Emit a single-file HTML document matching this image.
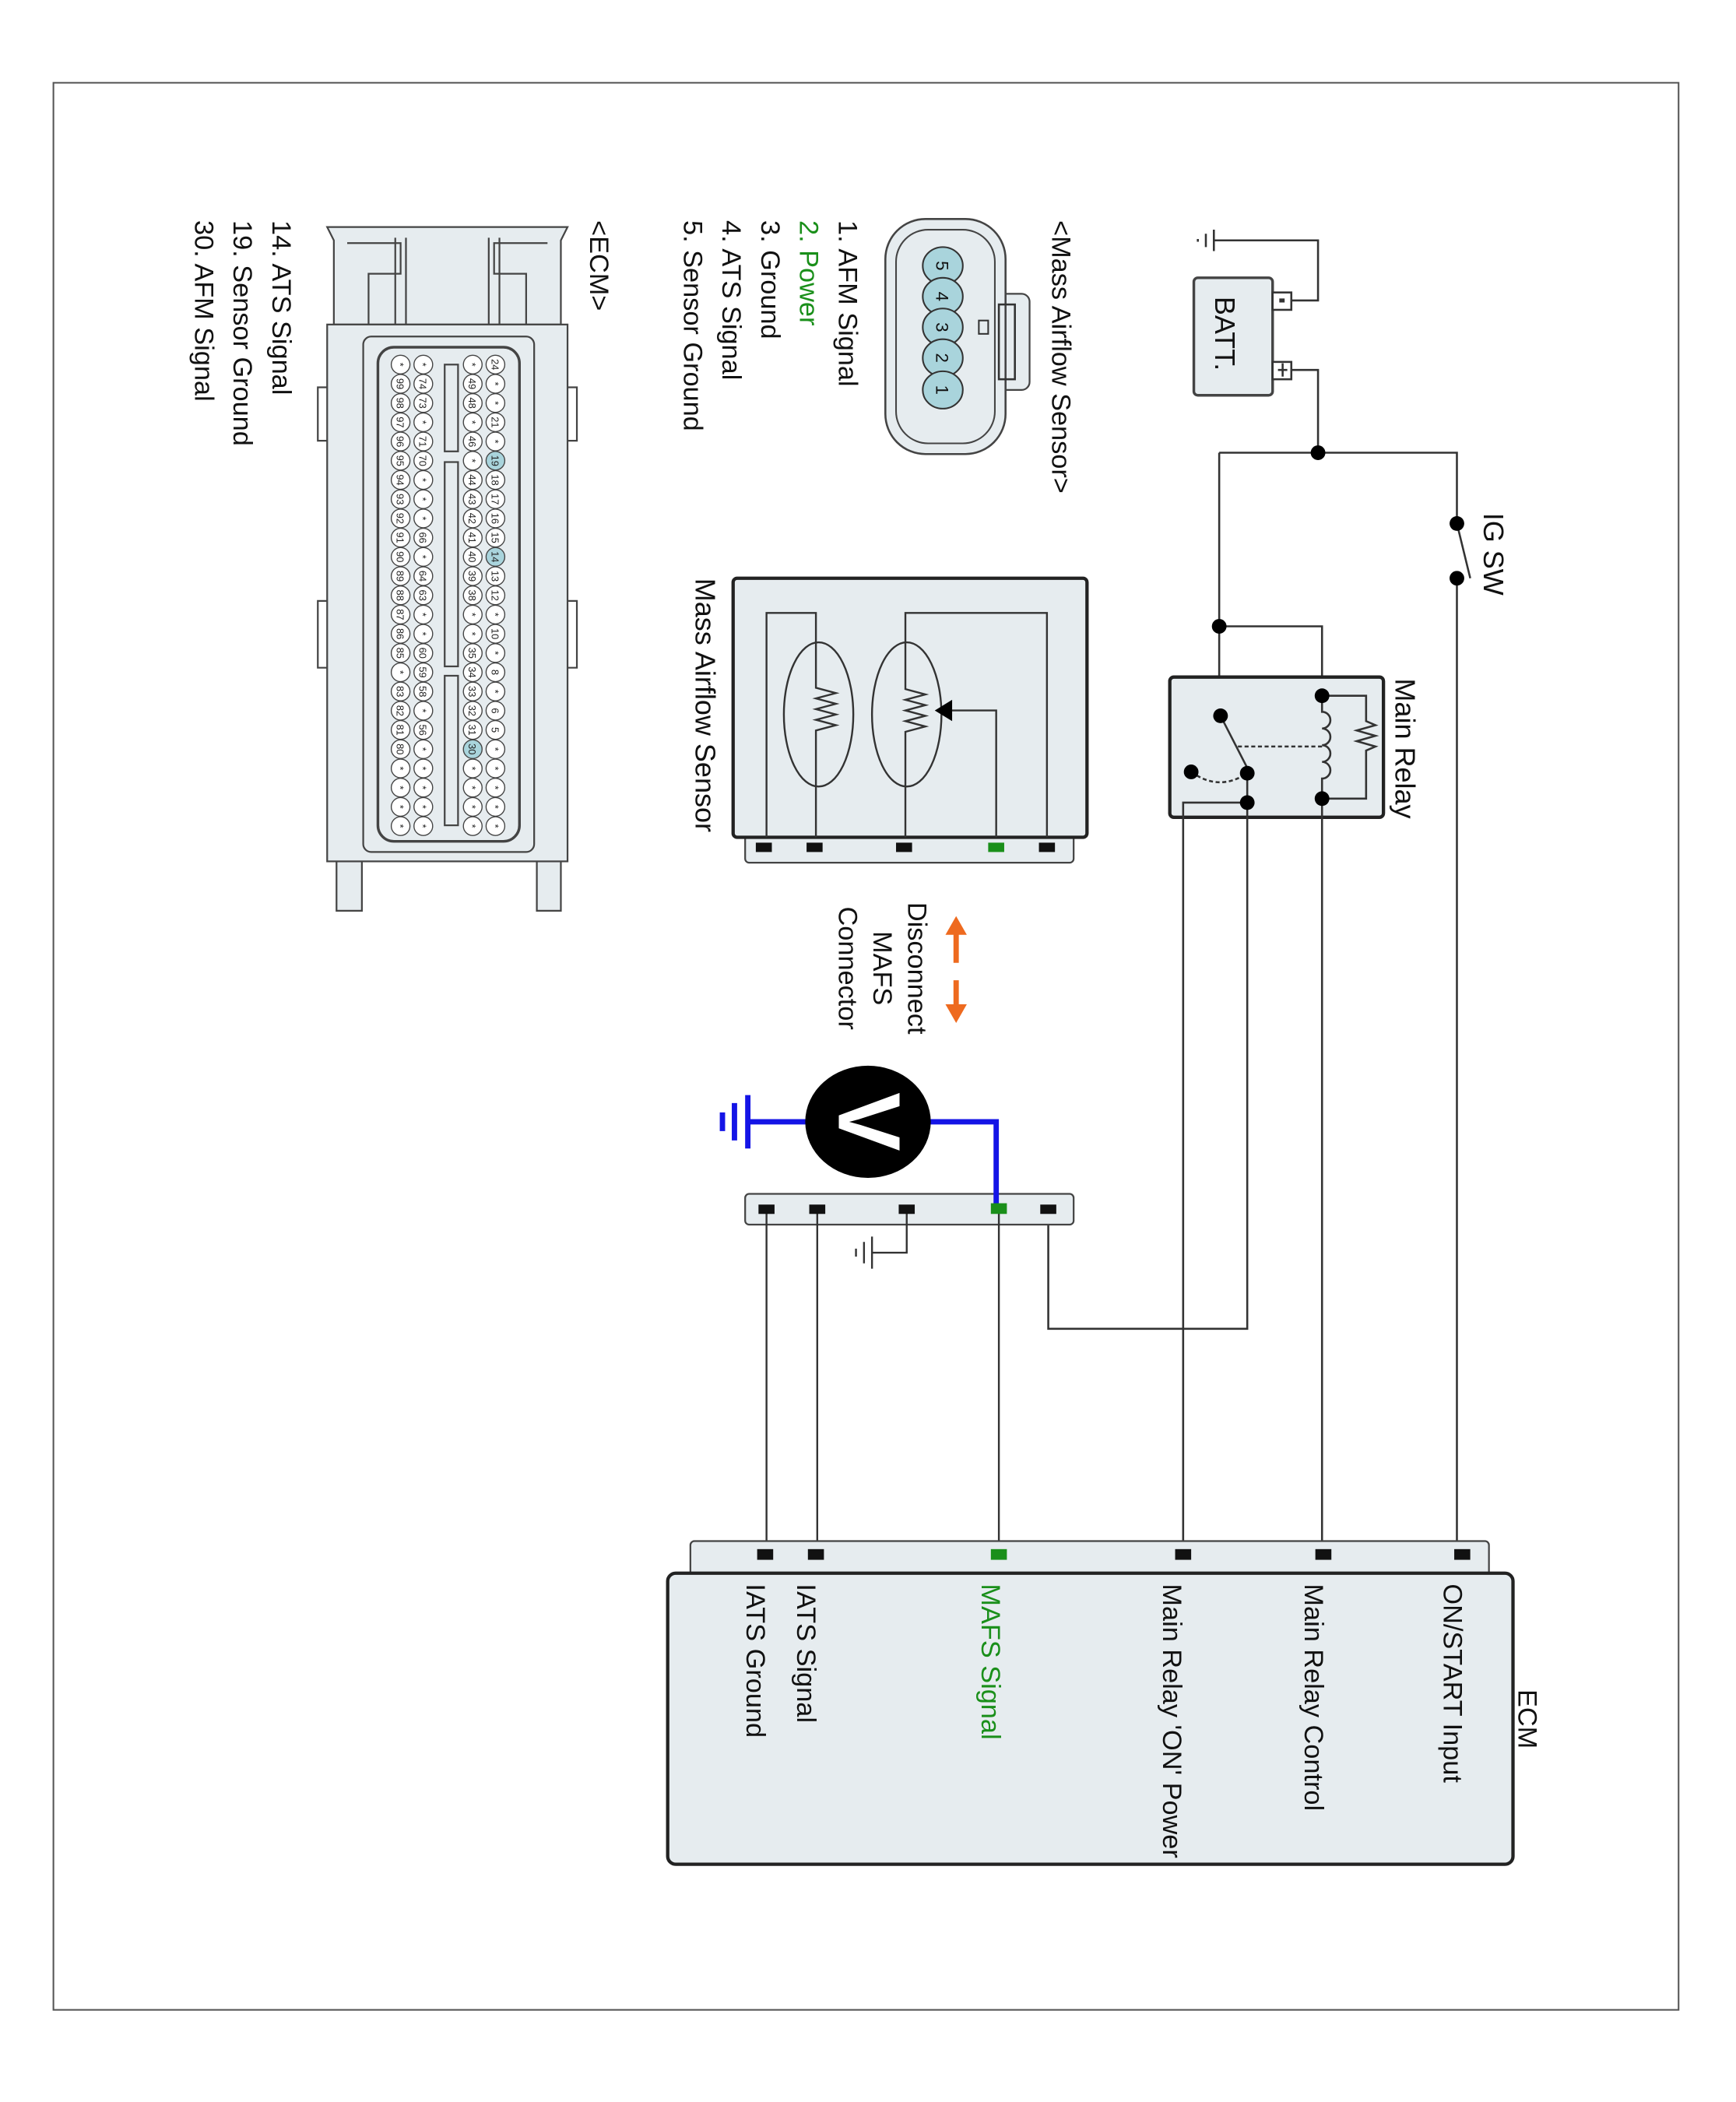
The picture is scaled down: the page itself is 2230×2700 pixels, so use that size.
<!DOCTYPE html>
<html><head><meta charset="utf-8"><style>
html,body{margin:0;padding:0;background:#fff;}
svg{display:block;}
text{font-family:"Liberation Sans",Arial,sans-serif;}
</style></head><body>
<svg width="2230" height="2700" viewBox="0 0 1300 1574" preserveAspectRatio="none" xmlns="http://www.w3.org/2000/svg">
<rect x="0" y="0" width="1300" height="1574" fill="#fff"/>
<rect x="40" y="62" width="1217" height="1443" fill="none" stroke="#555" stroke-width="1.2"/>

<!-- Battery -->
<g stroke="#333" stroke-width="1.5" fill="none">
<rect x="894" y="208" width="59" height="88" rx="3" fill="#e6ecef" stroke="#444" stroke-width="2"/>
<rect x="953" y="219" width="14" height="13" fill="#fff"/>
<rect x="953" y="271" width="14" height="13" fill="#fff"/>
<path d="M967,225 H987 V180 H909"/>
<path d="M909,172 V188 M903,175 V185 M897,179 V181"/>
<path d="M967,277 H987 V339"/>
<path d="M957,277 H964 M960.5,272 V282"/>
<rect x="958" y="223.5" width="4" height="3" fill="#333" stroke="none"/>
<path d="M913,339 H1091 V392"/>
<path d="M1091,433 V1166"/>
<path d="M1091,392 L1101,433"/>
<path d="M913,339 V536"/>
<path d="M913,469 H990 V521"/>
</g>
<text transform="translate(910,222) rotate(90)" font-size="21" fill="#111">BATT.</text>
<circle cx="987" cy="339" r="5.5" fill="#000"/>
<circle cx="1091" cy="392" r="5.5" fill="#000"/>
<circle cx="1091" cy="433" r="5.5" fill="#000"/>
<circle cx="913" cy="469" r="5.5" fill="#000"/>
<text transform="translate(1111,384) rotate(90)" font-size="21" fill="#111">IG SW</text>

<!-- Main relay -->
<rect x="876" y="507" width="160" height="105" rx="3" fill="#e6ecef" stroke="#222" stroke-width="2.5"/>
<g stroke="#333" stroke-width="1.5" fill="none">
<path d="M990,521 V533 a6,6 0 0 1 0,12.5 a6,6 0 0 1 0,12.5 a6,6 0 0 1 0,12.5 a6,6 0 0 1 0,12.5 V598"/>
<path d="M990,521 H1023 V540 l7,3 l-14,4 l14,4 l-14,4 l14,4 l-7,3 V598 H990"/>
<path d="M914,536 L934,575"/>
<path d="M927,559 H990" stroke-dasharray="3,2"/>
<path d="M892,578 Q913,593 934,579" stroke-dasharray="3,2"/>
<path d="M934,579 V995 H785 V906"/>
<path d="M934,601 H886 V1166"/>
<path d="M990,598 V1166"/>
</g>
<circle cx="914" cy="536" r="5.5" fill="#000"/>
<circle cx="990" cy="521" r="5.5" fill="#000"/>
<circle cx="990" cy="598" r="5.5" fill="#000"/>
<circle cx="934" cy="579" r="5.5" fill="#000"/>
<circle cx="934" cy="601" r="5.5" fill="#000"/>
<circle cx="892" cy="578" r="5.5" fill="#000"/>
<text transform="translate(1045,508) rotate(90)" font-size="21" fill="#111">Main Relay</text>

<!-- MAF sensor -->
<rect x="558" y="625" width="246" height="21" rx="3" fill="#e6ecef" stroke="#444" stroke-width="1.3"/>
<rect x="549" y="433" width="265" height="194" rx="3" fill="#e6ecef" stroke="#222" stroke-width="2.5"/>
<g stroke="#333" stroke-width="1.4" fill="none">
<path d="M574,627 V459 H611 V515 l15,4 l-15,4 l15,4 l-15,4 l15,4 l-15,4 l15,4 l-15,4 V627"/>
<path d="M678,627 V548 l15,-4 l-15,-4 l15,-4 l-15,-4 l15,-4 l-15,-4 l15,-4 l-15,-4 V459 H784 V627"/>
<ellipse cx="613" cy="535" rx="26" ry="54"/>
<ellipse cx="679" cy="535" rx="26" ry="54"/>
<path d="M746,627 V532 H712"/>
</g>
<polygon points="700,532 713,524 713,540" fill="#000"/>
<g fill="#111"><rect x="566" y="631" width="12" height="7"/><rect x="604" y="631" width="12" height="7"/><rect x="671" y="631" width="12" height="7"/><rect x="778" y="631" width="12" height="7"/></g>
<rect x="740" y="631" width="12" height="7" fill="#1a8f1a"/>
<text transform="translate(521,433) rotate(90)" font-size="21" fill="#111">Mass Airflow Sensor</text>

<!-- Disconnect arrows -->
<g stroke="#ee6a1f" stroke-width="4" fill="#ee6a1f">
<path d="M716,698 V721"/><polygon points="716,686 708,700 724,700" stroke="none"/>
<path d="M716,734 V754"/><polygon points="716,766 708,752 724,752" stroke="none"/>
</g>
<text transform="translate(680,725) rotate(90)" font-size="20" fill="#111" text-anchor="middle">Disconnect</text>
<text transform="translate(654,725) rotate(90)" font-size="20" fill="#111" text-anchor="middle">MAFS</text>
<text transform="translate(628,725) rotate(90)" font-size="20" fill="#111" text-anchor="middle">Connector</text>

<!-- Lower connector and voltmeter -->
<rect x="558" y="894" width="246" height="23" rx="3" fill="#e6ecef" stroke="#444" stroke-width="1.3"/>
<g stroke="#333" stroke-width="1.4" fill="none">
<path d="M574,906 V1166 M612,906 V1166 M748,906 V1166"/>
<path d="M679,906 V938 H653 M653,926 V950 M647,930 V946 M641,935 V941"/>
</g>
<g fill="#111"><rect x="568" y="902" width="12" height="7"/><rect x="606" y="902" width="12" height="7"/><rect x="673" y="902" width="12" height="7"/><rect x="779" y="902" width="12" height="7"/></g>
<path d="M746,904 V840 H696 M604,840 H560 M560,820 V860 M550,826 V854 M541,833 V847" stroke="#1414e6" stroke-width="4" fill="none"/>
<rect x="742" y="901" width="12" height="8" fill="#1a8f1a"/>
<ellipse cx="650" cy="840" rx="47" ry="42" fill="#000"/>
<text transform="translate(628,840) rotate(90)" font-size="66" font-weight="bold" fill="#fff" text-anchor="middle">V</text>

<!-- ECM -->
<rect x="517" y="1154" width="598" height="26" rx="3" fill="#e6ecef" stroke="#444" stroke-width="1.3"/>
<rect x="500" y="1178" width="633" height="218" rx="6" fill="#e6ecef" stroke="#222" stroke-width="2.5"/>
<g fill="#111"><rect x="567" y="1160" width="12" height="8"/><rect x="605" y="1160" width="12" height="8"/><rect x="880" y="1160" width="12" height="8"/><rect x="985" y="1160" width="12" height="8"/><rect x="1089" y="1160" width="12" height="8"/></g>
<rect x="742" y="1160" width="12" height="8" fill="#1a8f1a"/>
<g font-size="20" fill="#111">
<text transform="translate(559,1186) rotate(90)">IATS Ground</text>
<text transform="translate(597,1186) rotate(90)">IATS Signal</text>
<text transform="translate(735,1186) rotate(90)" fill="#1a8f1a">MAFS Signal</text>
<text transform="translate(871,1186) rotate(90)">Main Relay 'ON' Power</text>
<text transform="translate(977,1186) rotate(90)">Main Relay Control</text>
<text transform="translate(1081,1186) rotate(90)">ON/START Input</text>
<text transform="translate(1137,1265) rotate(90)">ECM</text>
</g>

<!-- MAFS connector view -->
<text transform="translate(788,165) rotate(90)" font-size="20" fill="#111">&lt;Mass Airflow Sensor&gt;</text>
<path d="M753,220 H765 a6,6 0 0 1 6,6 V286 a6,6 0 0 1 -6,6 H753" fill="#e6ecef" stroke="#444" stroke-width="1.3"/>
<rect x="663" y="164" width="90" height="176" rx="30" fill="#e6ecef" stroke="#444" stroke-width="1.5"/>
<rect x="671" y="172" width="74" height="160" rx="24" fill="none" stroke="#444" stroke-width="1.2"/>
<rect x="748" y="228" width="12" height="56" fill="none" stroke="#333" stroke-width="1.5"/>
<rect x="733" y="240" width="7" height="10" fill="none" stroke="#333" stroke-width="1.2"/>
<g fill="#a9d4dc" stroke="#333" stroke-width="1.2">
<ellipse cx="706" cy="199" rx="15" ry="14"/><ellipse cx="706" cy="222" rx="15" ry="14"/><ellipse cx="706" cy="245" rx="15" ry="14"/><ellipse cx="706" cy="268" rx="15" ry="14"/><ellipse cx="706" cy="292" rx="15" ry="14"/>
</g>
<g font-size="13" fill="#111" text-anchor="middle">
<text transform="translate(701,199) rotate(90)">5</text><text transform="translate(701,222) rotate(90)">4</text><text transform="translate(701,245) rotate(90)">3</text><text transform="translate(701,268) rotate(90)">2</text><text transform="translate(701,292) rotate(90)">1</text>
</g>
<g font-size="20" fill="#111">
<text transform="translate(628,165) rotate(90)">1. AFM Signal</text>
<text transform="translate(599,165) rotate(90)" fill="#1a8f1a">2. Power</text>
<text transform="translate(570,165) rotate(90)">3. Ground</text>
<text transform="translate(541,165) rotate(90)">4. ATS Signal</text>
<text transform="translate(512,165) rotate(90)">5. Sensor Ground</text>
<text transform="translate(442,165) rotate(90)">&lt;ECM&gt;</text>
<text transform="translate(204,165) rotate(90)">14. ATS Signal</text>
<text transform="translate(175,165) rotate(90)">19. Sensor Ground</text>
<text transform="translate(146,165) rotate(90)">30. AFM Signal</text>
</g>

<!-- ECM connector view -->
<g stroke="#444" stroke-width="1.3" fill="#e6ecef">
<path d="M252,645 V682 H271 V645 M402,645 V682 H420 V645" fill="#e6ecef"/>
<path d="M250,243 V180 L245,170 H425 L420,180 V243 Z"/>
<path d="M260,182 H300 V205 H276 V243 M410,182 H370 V205 H394 V243" fill="none"/>
<path d="M296,178 V243 M304,178 V243 M366,178 V243 M374,178 V243" fill="none"/>
<rect x="245" y="243" width="180" height="402"/>
<rect x="272" y="252" width="128" height="386" rx="6"/>
<rect x="283" y="260" width="106" height="370" rx="12" stroke-width="2"/>
<rect x="333" y="273" width="10" height="65"/>
<rect x="333" y="346" width="10" height="153"/>
<rect x="333" y="506" width="10" height="112"/>
<path d="M245,290 H238 V330 H245 M245,450 H238 V500 H245 M425,290 H432 V330 H425 M425,450 H432 V500 H425" fill="none"/>
</g>
<g font-size="7.5" fill="#222" text-anchor="middle">
<g transform="translate(371,273) rotate(90)">
<g fill="#fff" stroke="#444" stroke-width="0.8"><circle cx="0" cy="0" r="7"/><circle cx="14.4" cy="0" r="7"/><circle cx="28.8" cy="0" r="7"/><circle cx="43.2" cy="0" r="7"/><circle cx="57.6" cy="0" r="7"/><circle cx="72" cy="0" r="7" fill="#a9d4dc"/><circle cx="86.4" cy="0" r="7"/><circle cx="100.8" cy="0" r="7"/><circle cx="115.2" cy="0" r="7"/><circle cx="129.6" cy="0" r="7"/><circle cx="144" cy="0" r="7" fill="#a9d4dc"/><circle cx="158.4" cy="0" r="7"/><circle cx="172.8" cy="0" r="7"/><circle cx="187.2" cy="0" r="7"/><circle cx="201.6" cy="0" r="7"/><circle cx="216" cy="0" r="7"/><circle cx="230.4" cy="0" r="7"/><circle cx="244.8" cy="0" r="7"/><circle cx="259.2" cy="0" r="7"/><circle cx="273.6" cy="0" r="7"/><circle cx="288" cy="0" r="7"/><circle cx="302.4" cy="0" r="7"/><circle cx="316.8" cy="0" r="7"/><circle cx="331.2" cy="0" r="7"/><circle cx="345.6" cy="0" r="7"/></g>
<text x="0" y="3">24</text><text x="14.4" y="3">*</text><text x="28.8" y="3">*</text><text x="43.2" y="3">21</text><text x="57.6" y="3">*</text><text x="72" y="3">19</text><text x="86.4" y="3">18</text><text x="100.8" y="3">17</text><text x="115.2" y="3">16</text><text x="129.6" y="3">15</text><text x="144" y="3">14</text><text x="158.4" y="3">13</text><text x="172.8" y="3">12</text><text x="187.2" y="3">*</text><text x="201.6" y="3">10</text><text x="216" y="3">*</text><text x="230.4" y="3">8</text><text x="244.8" y="3">*</text><text x="259.2" y="3">6</text><text x="273.6" y="3">5</text><text x="288" y="3">*</text><text x="302.4" y="3">*</text><text x="316.8" y="3">*</text><text x="331.2" y="3">*</text><text x="345.6" y="3">*</text>
</g>
<g transform="translate(354,273) rotate(90)">
<g fill="#fff" stroke="#444" stroke-width="0.8"><circle cx="0" cy="0" r="7"/><circle cx="14.4" cy="0" r="7"/><circle cx="28.8" cy="0" r="7"/><circle cx="43.2" cy="0" r="7"/><circle cx="57.6" cy="0" r="7"/><circle cx="72" cy="0" r="7"/><circle cx="86.4" cy="0" r="7"/><circle cx="100.8" cy="0" r="7"/><circle cx="115.2" cy="0" r="7"/><circle cx="129.6" cy="0" r="7"/><circle cx="144" cy="0" r="7"/><circle cx="158.4" cy="0" r="7"/><circle cx="172.8" cy="0" r="7"/><circle cx="187.2" cy="0" r="7"/><circle cx="201.6" cy="0" r="7"/><circle cx="216" cy="0" r="7"/><circle cx="230.4" cy="0" r="7"/><circle cx="244.8" cy="0" r="7"/><circle cx="259.2" cy="0" r="7"/><circle cx="273.6" cy="0" r="7"/><circle cx="288" cy="0" r="7" fill="#a9d4dc"/><circle cx="302.4" cy="0" r="7"/><circle cx="316.8" cy="0" r="7"/><circle cx="331.2" cy="0" r="7"/><circle cx="345.6" cy="0" r="7"/></g>
<text x="0" y="3">*</text><text x="14.4" y="3">49</text><text x="28.8" y="3">48</text><text x="43.2" y="3">*</text><text x="57.6" y="3">46</text><text x="72" y="3">*</text><text x="86.4" y="3">44</text><text x="100.8" y="3">43</text><text x="115.2" y="3">42</text><text x="129.6" y="3">41</text><text x="144" y="3">40</text><text x="158.4" y="3">39</text><text x="172.8" y="3">38</text><text x="187.2" y="3">*</text><text x="201.6" y="3">*</text><text x="216" y="3">35</text><text x="230.4" y="3">34</text><text x="244.8" y="3">33</text><text x="259.2" y="3">32</text><text x="273.6" y="3">31</text><text x="288" y="3">30</text><text x="302.4" y="3">*</text><text x="316.8" y="3">*</text><text x="331.2" y="3">*</text><text x="345.6" y="3">*</text>
</g>
<g transform="translate(317,273) rotate(90)">
<g fill="#fff" stroke="#444" stroke-width="0.8"><circle cx="0" cy="0" r="7"/><circle cx="14.4" cy="0" r="7"/><circle cx="28.8" cy="0" r="7"/><circle cx="43.2" cy="0" r="7"/><circle cx="57.6" cy="0" r="7"/><circle cx="72" cy="0" r="7"/><circle cx="86.4" cy="0" r="7"/><circle cx="100.8" cy="0" r="7"/><circle cx="115.2" cy="0" r="7"/><circle cx="129.6" cy="0" r="7"/><circle cx="144" cy="0" r="7"/><circle cx="158.4" cy="0" r="7"/><circle cx="172.8" cy="0" r="7"/><circle cx="187.2" cy="0" r="7"/><circle cx="201.6" cy="0" r="7"/><circle cx="216" cy="0" r="7"/><circle cx="230.4" cy="0" r="7"/><circle cx="244.8" cy="0" r="7"/><circle cx="259.2" cy="0" r="7"/><circle cx="273.6" cy="0" r="7"/><circle cx="288" cy="0" r="7"/><circle cx="302.4" cy="0" r="7"/><circle cx="316.8" cy="0" r="7"/><circle cx="331.2" cy="0" r="7"/><circle cx="345.6" cy="0" r="7"/></g>
<text x="0" y="3">*</text><text x="14.4" y="3">74</text><text x="28.8" y="3">73</text><text x="43.2" y="3">*</text><text x="57.6" y="3">71</text><text x="72" y="3">70</text><text x="86.4" y="3">*</text><text x="100.8" y="3">*</text><text x="115.2" y="3">*</text><text x="129.6" y="3">66</text><text x="144" y="3">*</text><text x="158.4" y="3">64</text><text x="172.8" y="3">63</text><text x="187.2" y="3">*</text><text x="201.6" y="3">*</text><text x="216" y="3">60</text><text x="230.4" y="3">59</text><text x="244.8" y="3">58</text><text x="259.2" y="3">*</text><text x="273.6" y="3">56</text><text x="288" y="3">*</text><text x="302.4" y="3">*</text><text x="316.8" y="3">*</text><text x="331.2" y="3">*</text><text x="345.6" y="3">*</text>
</g>
<g transform="translate(300,273) rotate(90)">
<g fill="#fff" stroke="#444" stroke-width="0.8"><circle cx="0" cy="0" r="7"/><circle cx="14.4" cy="0" r="7"/><circle cx="28.8" cy="0" r="7"/><circle cx="43.2" cy="0" r="7"/><circle cx="57.6" cy="0" r="7"/><circle cx="72" cy="0" r="7"/><circle cx="86.4" cy="0" r="7"/><circle cx="100.8" cy="0" r="7"/><circle cx="115.2" cy="0" r="7"/><circle cx="129.6" cy="0" r="7"/><circle cx="144" cy="0" r="7"/><circle cx="158.4" cy="0" r="7"/><circle cx="172.8" cy="0" r="7"/><circle cx="187.2" cy="0" r="7"/><circle cx="201.6" cy="0" r="7"/><circle cx="216" cy="0" r="7"/><circle cx="230.4" cy="0" r="7"/><circle cx="244.8" cy="0" r="7"/><circle cx="259.2" cy="0" r="7"/><circle cx="273.6" cy="0" r="7"/><circle cx="288" cy="0" r="7"/><circle cx="302.4" cy="0" r="7"/><circle cx="316.8" cy="0" r="7"/><circle cx="331.2" cy="0" r="7"/><circle cx="345.6" cy="0" r="7"/></g>
<text x="0" y="3">*</text><text x="14.4" y="3">99</text><text x="28.8" y="3">98</text><text x="43.2" y="3">97</text><text x="57.6" y="3">96</text><text x="72" y="3">95</text><text x="86.4" y="3">94</text><text x="100.8" y="3">93</text><text x="115.2" y="3">92</text><text x="129.6" y="3">91</text><text x="144" y="3">90</text><text x="158.4" y="3">89</text><text x="172.8" y="3">88</text><text x="187.2" y="3">87</text><text x="201.6" y="3">86</text><text x="216" y="3">85</text><text x="230.4" y="3">*</text><text x="244.8" y="3">83</text><text x="259.2" y="3">82</text><text x="273.6" y="3">81</text><text x="288" y="3">80</text><text x="302.4" y="3">*</text><text x="316.8" y="3">*</text><text x="331.2" y="3">*</text><text x="345.6" y="3">*</text>
</g>
</g>
</svg>
</body></html>
